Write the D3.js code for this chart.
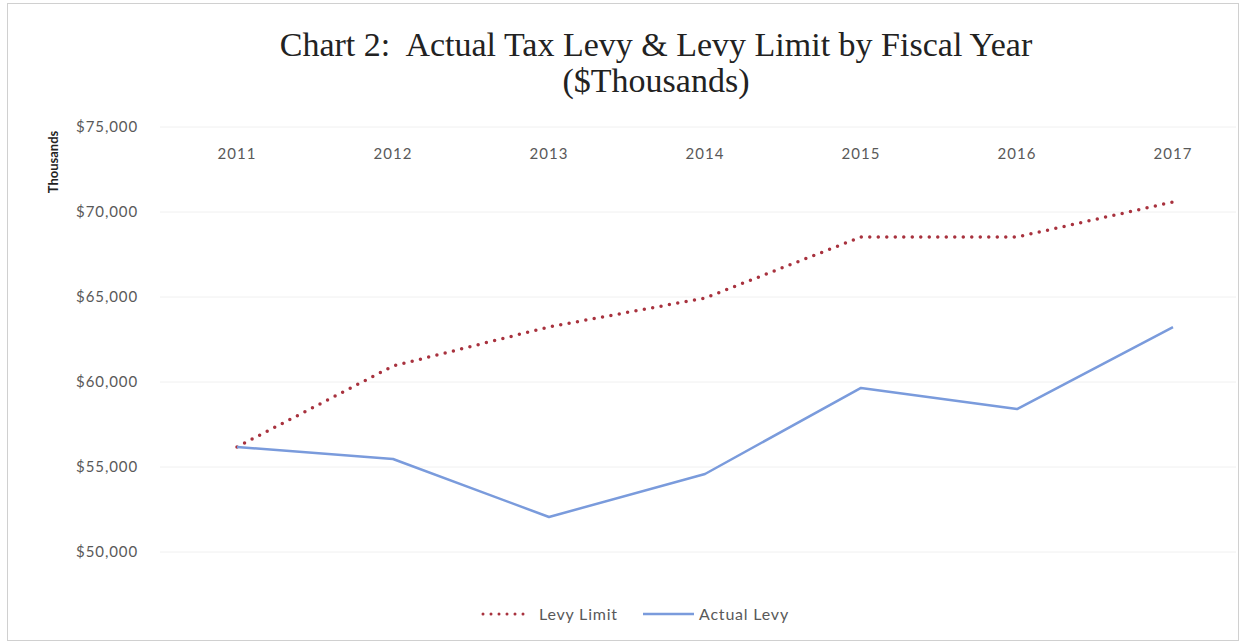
<!DOCTYPE html>
<html>
<head>
<meta charset="utf-8">
<script src="https://cdn.jsdelivr.net/npm/d3@7"></script>
<style>
  body { margin: 0; background: #fff; }
  svg { display: block; }
</style>
</head>
<body>
<svg id="chart" width="1248" height="644"></svg>
<script>
// data ($ thousands)
const years = ["2011", "2012", "2013", "2014", "2015", "2016", "2017"];
const levyLimit = [56180, 60940, 63240, 64940, 68530, 68530, 70590];
const actualLevy = [56180, 55470, 52060, 54590, 59650, 58410, 63230];
const yTicks = [50000, 55000, 60000, 65000, 70000, 75000];

const width = 1248, height = 644;
const svg = d3.select("#chart");

// frame
svg.append("rect")
  .attr("x", 7.5).attr("y", 3.5)
  .attr("width", 1231).attr("height", 637)
  .attr("fill", "none")
  .attr("stroke", "#d0d0d0");

const x = d3.scalePoint().domain(years).range([237, 1173]);
const y = d3.scaleLinear().domain([50000, 75000]).range([552, 127]);

// title
const title = svg.append("text")
  .attr("text-anchor", "middle")
  .attr("font-family", "Liberation Serif, Times New Roman, serif")
  .attr("font-size", 34)
  .attr("fill", "#222")
  .style("white-space", "pre");
title.append("tspan").attr("x", 656).attr("y", 56).text("Chart 2:  Actual Tax Levy & Levy Limit by Fiscal Year");
title.append("tspan").attr("x", 656).attr("y", 92).text("($Thousands)");

// gridlines
svg.append("g")
  .selectAll("line")
  .data(yTicks)
  .join("line")
  .attr("x1", 160).attr("x2", 1236)
  .attr("y1", d => y(d)).attr("y2", d => y(d))
  .attr("stroke", "#f0f0f0")
  .attr("stroke-width", 1);

const labelFont = "Lato, Open Sans, sans-serif";

// y axis labels
const fmt = d3.format("$,");
svg.append("g")
  .selectAll("text")
  .data(yTicks)
  .join("text")
  .attr("x", 138)
  .attr("y", d => y(d) + 5)
  .attr("text-anchor", "end")
  .attr("font-family", labelFont)
  .attr("font-size", 15)
  .attr("letter-spacing", 0.9)
  .attr("fill", "#595959")
  .text(d => fmt(d));

svg.append("text")
  .attr("transform", "translate(58,162) rotate(-90)")
  .attr("text-anchor", "middle")
  .attr("font-family", labelFont)
  .attr("font-weight", "bold")
  .attr("font-size", 13)
  .attr("fill", "#222")
  .text("Thousands");

// x axis labels (on top)
svg.append("g")
  .selectAll("text")
  .data(years)
  .join("text")
  .attr("x", d => x(d))
  .attr("y", 159)
  .attr("text-anchor", "middle")
  .attr("font-family", labelFont)
  .attr("font-size", 15)
  .attr("letter-spacing", 1)
  .attr("fill", "#595959")
  .text(d => d);

const line = d3.line()
  .x((d, i) => x(years[i]))
  .y(d => y(d));

const limitColor = "#a8323e";
const actualColor = "#7a9bdc";

svg.append("path")
  .datum(levyLimit)
  .attr("d", line)
  .attr("fill", "none")
  .attr("stroke", limitColor)
  .attr("stroke-width", 3.5)
  .attr("stroke-linecap", "round")
  .attr("stroke-dasharray", "0 8.5");

svg.append("path")
  .datum(actualLevy)
  .attr("d", line)
  .attr("fill", "none")
  .attr("stroke", actualColor)
  .attr("stroke-width", 2.5)
  .attr("stroke-linejoin", "round");

// legend
const legend = svg.append("g").attr("font-family", labelFont)
  .attr("font-size", 16).attr("letter-spacing", 0.8).attr("fill", "#595959");
legend.append("line")
  .attr("x1", 483).attr("x2", 531).attr("y1", 614).attr("y2", 614)
  .attr("stroke", limitColor).attr("stroke-width", 3)
  .attr("stroke-linecap", "round").attr("stroke-dasharray", "0 8");
legend.append("text").attr("x", 539).attr("y", 620).text("Levy Limit");
legend.append("line")
  .attr("x1", 643).attr("x2", 694).attr("y1", 614).attr("y2", 614)
  .attr("stroke", actualColor).attr("stroke-width", 2.5);
legend.append("text").attr("x", 699).attr("y", 620).text("Actual Levy");
</script>
</body>
</html>
